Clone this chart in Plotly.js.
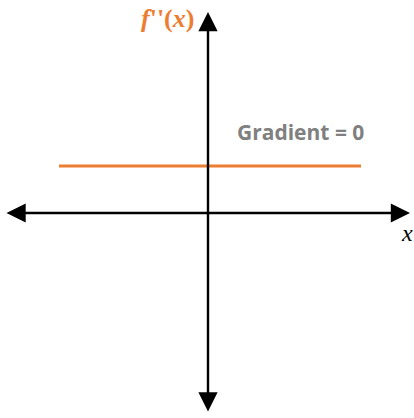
<!DOCTYPE html>
<html><head><meta charset="utf-8">
<script src="https://cdn.plot.ly/plotly-3.0.1.min.js"></script>
<style>html,body{margin:0;padding:0;background:#fff}#c{width:414px;height:418px}</style>
</head><body><div id="c"></div>
<script>
// Second derivative f''(x) is constant -> horizontal line (gradient = 0)
const lineX = [-1.49, 1.53];
const lineY = [0.47, 0.47];
const axisX = [-2.03, 2.02];   // horizontal axis extent
const axisY = [-2.00, 2.01];   // vertical axis extent
const labels = {fpp: "f''(x)", grad: "Gradient = 0", x: "x"};

const traces = [{
  x: lineX, y: lineY, mode: 'lines', type: 'scatter',
  line: {color: '#ED7D31', width: 3}, hoverinfo: 'skip', showlegend: false
}];

function dblArrow(x0, y0, x1, y1) {
  return {x: x1, y: y1, ax: x0, ay: y0, xref: 'x', yref: 'y', axref: 'x', ayref: 'y',
    showarrow: true, arrowside: 'end+start', arrowhead: 2, startarrowhead: 2,
    arrowsize: 1.6, startarrowsize: 1.6, arrowwidth: 2.4, arrowcolor: '#000',
    standoff: 0, startstandoff: 0, text: ''};
}

const annotations = [
  dblArrow(axisX[0], 0, axisX[1], 0),
  dblArrow(0, axisY[0], 0, axisY[1]),
  {x: -0.41, y: 1.95, xref: 'x', yref: 'y', showarrow: false,
   text: "<b><i>f</i>''(<i>x</i>)</b>",
   font: {family: 'Liberation Serif, DejaVu Serif, serif', size: 26, color: '#ED7D31'}},
  {x: 0.92, y: 0.81, xref: 'x', yref: 'y', showarrow: false,
   text: '<b>' + labels.grad + '</b>',
   font: {family: 'Open Sans, sans-serif', size: 21, color: '#808080'}},
  {x: 1.99, y: -0.2, xref: 'x', yref: 'y', showarrow: false,
   text: '<i>' + labels.x + '</i>',
   font: {family: 'Liberation Serif, DejaVu Serif, serif', size: 24, color: '#000'}}
];

Plotly.newPlot('c', traces, {
  width: 414, height: 418,
  margin: {l: 0, r: 0, t: 0, b: 0},
  paper_bgcolor: '#fff', plot_bgcolor: '#fff',
  xaxis: {range: [-2.08, 2.06], visible: false, fixedrange: true},
  yaxis: {range: [-2.05, 2.13], visible: false, fixedrange: true},
  annotations: annotations,
  showlegend: false
}, {staticPlot: true});
</script></body></html>
